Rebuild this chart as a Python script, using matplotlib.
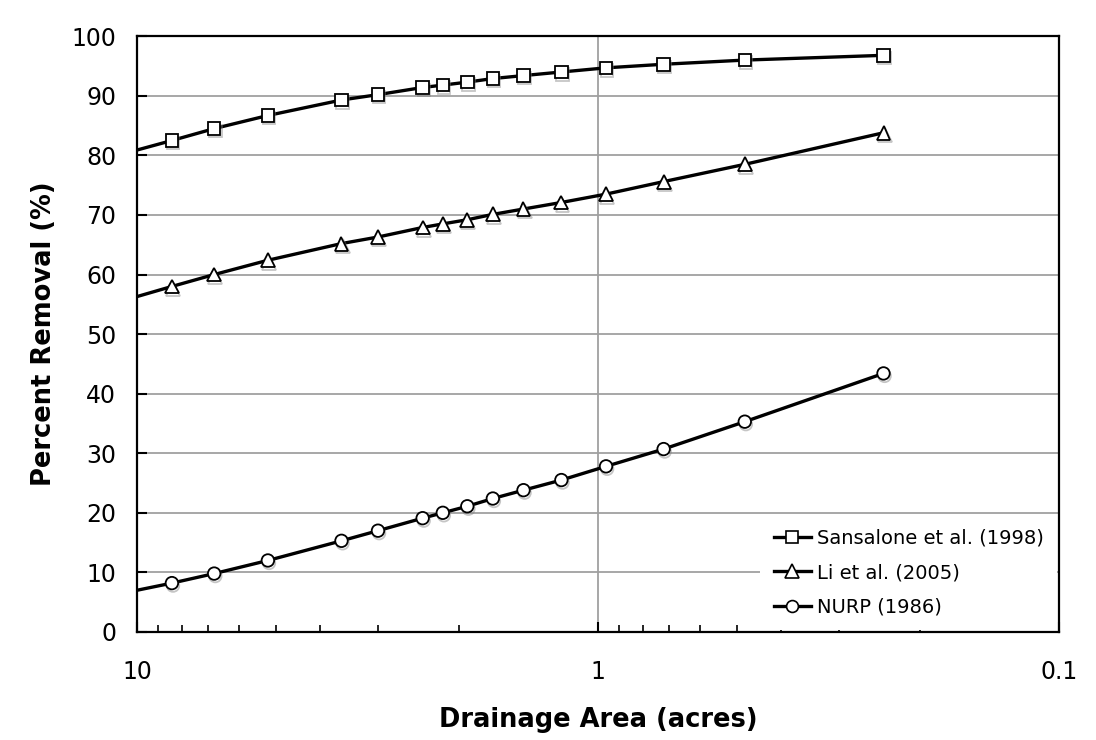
import matplotlib
matplotlib.use("Agg")
import matplotlib.pyplot as plt
import matplotlib.patheffects as pe
from matplotlib.ticker import LogLocator, FixedLocator, NullFormatter, FixedFormatter

# ---- data (drainage area in acres, percent removal) ----
area = [8.4, 6.8, 5.2, 3.6, 3.0, 2.4, 2.17, 1.92, 1.69, 1.45, 1.2, 0.96, 0.72, 0.48, 0.24]
sansalone = [82.5, 84.5, 86.7, 89.3, 90.2, 91.4, 91.8, 92.3, 92.9, 93.4, 94.0, 94.7, 95.3, 96.0, 96.8]
li = [58.0, 60.0, 62.4, 65.2, 66.3, 67.9, 68.5, 69.2, 70.1, 71.0, 72.1, 73.5, 75.6, 78.5, 83.8]
nurp = [8.2, 9.8, 12.0, 15.3, 17.0, 19.1, 20.0, 21.1, 22.4, 23.8, 25.5, 27.8, 30.7, 35.3, 43.4]
# curve values at the left edge of the axis (10 acres)
edge_area = 10
sansalone_edge = 80.9
li_edge = 56.3
nurp_edge = 7.0

labels = ["Sansalone et al. (1998)", "Li et al. (2005)", "NURP (1986)"]
markers = ["s", "^", "o"]
series = [(sansalone_edge, sansalone), (li_edge, li), (nurp_edge, nurp)]
y_ticks = [0, 10, 20, 30, 40, 50, 60, 70, 80, 90, 100]
x_ticks = [10, 1, 0.1]
x_tick_labels = ["10", "1", "0.1"]

plt.rcParams['font.family'] = ['DejaVu Sans']
fig = plt.figure(figsize=(10.96, 7.40), dpi=100)
ax = fig.add_axes([0.125, 0.146, 0.841, 0.805])

msizes = {"s": 9, "^": 10, "o": 9}
handles = []
for (edge, vals), m, lab in zip(series, markers, labels):
    xs = [edge_area] + area
    ys = [edge] + vals
    ax.plot(xs, ys, color="black", lw=2.4, zorder=3, solid_capstyle="butt")
    ax.plot(area, vals, linestyle="none", marker=m, ms=msizes[m],
            mfc="white", mec="black", mew=1.3, zorder=4,
            path_effects=[pe.SimpleLineShadow(offset=(0.8, -1.8), shadow_color="gray", alpha=0.45),
                          pe.Normal()])
    h, = ax.plot([], [], color="black", lw=2.4, marker=m, ms=msizes[m] * 0.95,
                 mfc="white", mec="black", mew=1.2, label=lab)
    handles.append(h)

ax.set_xscale("log")
ax.set_xlim(10, 0.1)
ax.set_ylim(0, 100)

ax.xaxis.set_major_locator(FixedLocator(x_ticks))
ax.xaxis.set_major_formatter(FixedFormatter(x_tick_labels))
ax.xaxis.set_minor_locator(LogLocator(base=10, subs=range(2, 10)))
ax.xaxis.set_minor_formatter(NullFormatter())
ax.set_yticks(y_ticks)

ax.tick_params(axis="both", which="major", direction="in", length=7, width=1.5,
               labelsize=17, color="black")
ax.tick_params(axis="x", which="major", pad=20)
ax.tick_params(axis="y", which="major", pad=15)
ax.tick_params(axis="x", which="minor", direction="in", length=5, width=1.2, color="black")

ax.grid(True, which="major", axis="both", color="#a0a0a0", lw=1.3, zorder=0)
for s in ax.spines.values():
    s.set_linewidth(1.6)
    s.set_color("black")
    s.set_zorder(5)

ax.set_xlabel("Drainage Area (acres)", fontsize=18.5, fontweight="bold", labelpad=17)
ax.set_ylabel("Percent Removal (%)", fontsize=18.5, fontweight="bold", labelpad=10)

leg = ax.legend(handles=handles, loc="lower right", frameon=True, fontsize=14,
                handlelength=1.9, handletextpad=0.3, labelspacing=0.8,
                borderpad=0.7, borderaxespad=0.08, fancybox=False)
leg.get_frame().set_edgecolor("white")
leg.get_frame().set_facecolor("white")
leg.get_frame().set_alpha(1.0)
leg.get_frame().set_linewidth(0)
leg.set_zorder(6)

fig.savefig("out.png", dpi=100, facecolor="white")
